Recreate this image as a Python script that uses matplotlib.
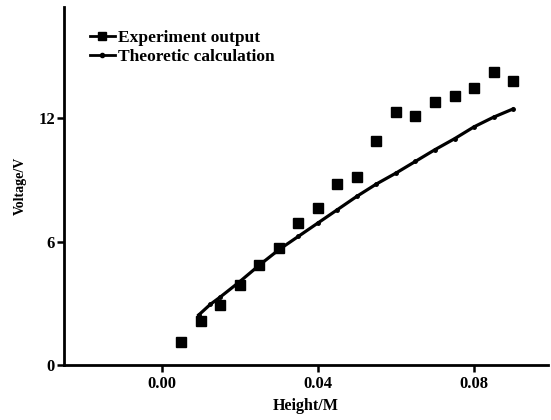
import matplotlib.pyplot as plt
from matplotlib.lines import Line2D

plt.rcParams['font.family'] = ['Liberation Serif', 'DejaVu Serif']
plt.rcParams['font.weight'] = 'bold'

# experiment output (squares)
exp_h = [0.005, 0.010, 0.015, 0.020, 0.025, 0.030, 0.035, 0.040, 0.045,
         0.050, 0.055, 0.060, 0.065, 0.070, 0.075, 0.080, 0.085, 0.090]
exp_v = [1.12, 2.14, 2.90, 3.90, 4.86, 5.70, 6.88, 7.61, 8.78,
         9.12, 10.90, 12.29, 12.10, 12.78, 13.09, 13.47, 14.27, 13.80]

# theoretic calculation (line)
theo_h = [0.0095, 0.0125, 0.015, 0.020, 0.025, 0.030, 0.035, 0.040, 0.045,
          0.050, 0.055, 0.060, 0.065, 0.070, 0.075, 0.080, 0.085, 0.090]
theo_v = [2.43, 2.95, 3.30, 4.05, 4.85, 5.60, 6.25, 6.90, 7.55,
          8.20, 8.80, 9.33, 9.90, 10.47, 11.00, 11.58, 12.05, 12.45]

xticks = [0.00, 0.04, 0.08]
yticks = [0, 6, 12]

fig = plt.figure(figsize=(5.51, 4.2), dpi=100)
ax = fig.add_axes([0.116, 0.131, 0.879, 0.852])

ax.plot(exp_h, exp_v, 's', color='black', markersize=7)
ax.plot(theo_h, theo_v, '-', color='black', linewidth=2.3,
        marker='o', markersize=2.5)

ax.set_xlim(-0.025, 0.099)
ax.set_ylim(0, 17.4)
ax.set_xticks(xticks)
ax.set_xticklabels(['%.2f' % t for t in xticks])
ax.set_yticks(yticks)

for s in ['top', 'right']:
    ax.spines[s].set_visible(False)
for s in ['left', 'bottom']:
    ax.spines[s].set_linewidth(2)

ax.tick_params(direction='out', length=5, width=1.8, labelsize=12)
ax.tick_params(axis='y', pad=1.5)
ax.tick_params(axis='x', pad=3)
ax.set_xlabel('Height/M', fontsize=11.5, fontweight='bold', labelpad=4)
ax.set_ylabel('Voltage/V', fontsize=10, fontweight='bold', labelpad=8)

handles = [
    Line2D([], [], color='black', linewidth=2, marker='s', markersize=6),
    Line2D([], [], color='black', linewidth=2, marker='o', markersize=3),
]
ax.legend(handles, ['Experiment output', 'Theoretic calculation'],
          loc='upper left', bbox_to_anchor=(0.04, 0.957), frameon=False,
          handlelength=1.4, handletextpad=0.2, labelspacing=0.2,
          prop={'size': 12.5, 'weight': 'bold'}, borderaxespad=0)

plt.savefig('out.png', dpi=100)
